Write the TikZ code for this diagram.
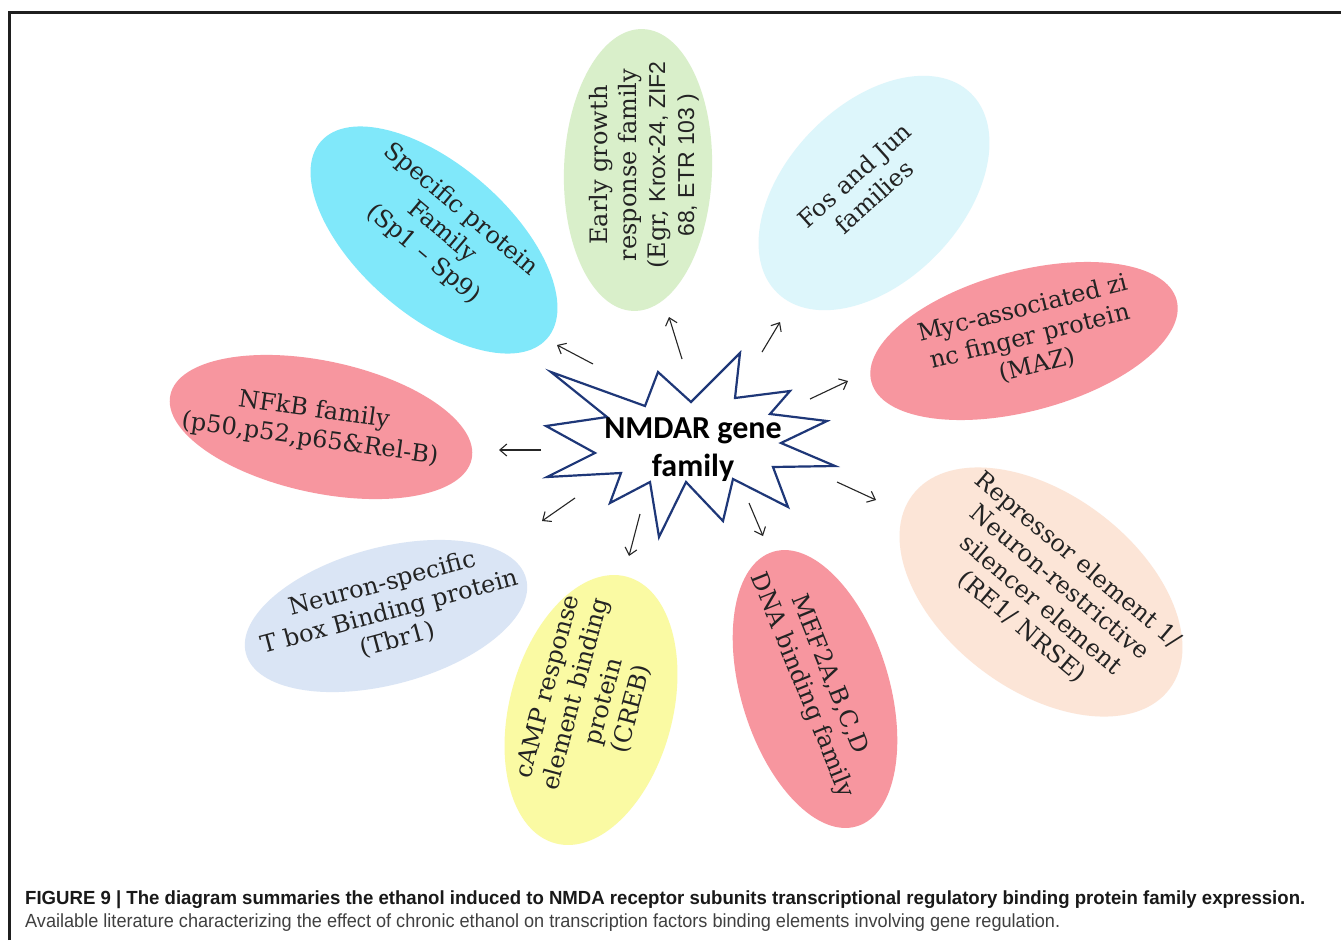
\documentclass[tikz,border=0pt]{standalone}
\usepackage{fontspec}
\setmainfont{DejaVu Serif}
\setsansfont{Liberation Sans}
\newfontfamily\hubfont{Carlito}
\usetikzlibrary{shapes.geometric,arrows.meta}
\definecolor{cgreen}{RGB}{217,239,202}
\definecolor{cpale}{RGB}{221,246,251}
\definecolor{ccyan}{RGB}{128,232,250}
\definecolor{cpink}{RGB}{247,150,159}
\definecolor{cpeach}{RGB}{252,229,215}
\definecolor{cyell}{RGB}{250,250,163}
\definecolor{cblue}{RGB}{218,229,245}
\definecolor{cstar}{RGB}{30,55,120}
\definecolor{ctext}{RGB}{35,35,35}
\begin{document}
\begin{tikzpicture}[x=1pt,y=-1pt,
  blob/.style={ellipse, draw=none, inner sep=0pt},
  lbl/.style={align=center, font=\fontsize{24}{29}\selectfont, text=ctext, inner sep=0pt},
  arr/.style={-{Straight Barb[length=7pt,width=12pt]}, line width=1.1pt, black!85},
  capb/.style={anchor=base west, inner sep=0pt, font=\sffamily\bfseries\fontsize{19}{22}\selectfont, text=black!90},
  capr/.style={anchor=base west, inner sep=0pt, font=\sffamily\fontsize{19}{22}\selectfont, text=black!75}]
\useasboundingbox (0,0) rectangle (1341,940);
\fill[white] (0,0) rectangle (1341,940);
% frame
\draw[line width=3pt, black!88] (9,940) -- (9,12) -- (1341,12);

% ellipses
\node[blob, fill=cgreen, minimum width=282, minimum height=148, rotate=88] (egr) at (638,170) {};
\node[blob, fill=cpale, minimum width=278, minimum height=176, rotate=46] (fos) at (874,193) {};
\node[blob, fill=ccyan, minimum width=300, minimum height=150, rotate=-41] (sp) at (434,240) {};
\node[blob, fill=cpink, minimum width=316, minimum height=140, rotate=15] (maz) at (1024,341) {};
\node[blob, fill=cpink, minimum width=308, minimum height=132, rotate=-12] (nfkb) at (321,427) {};
\node[blob, fill=cpeach, minimum width=322, minimum height=196, rotate=-37] (re1) at (1041,592) {};
\node[blob, fill=cpink, minimum width=287, minimum height=148, rotate=107] (mef) at (815,689) {};
\node[blob, fill=cyell, minimum width=276, minimum height=163, rotate=75] (creb) at (591,710) {};
\node[blob, fill=cblue, minimum width=290, minimum height=137, rotate=15] (tbr) at (386,616) {};

% labels
\node[lbl, rotate=90] (egrt) at (644,165) {Early growth\\response family\\(Egr, {\sffamily\fontsize{23}{29}\selectfont Krox-24, ZIF2}\\{\sffamily\fontsize{23}{29}\selectfont 68, ETR 103 )}};
\node[lbl, rotate=42] (fost) at (864,186) {Fos and Jun\\families};
\node[lbl, rotate=-40] (spt) at (442,232) {Specific protein\\Family\\(Sp1 -- Sp9)};
\node[lbl, rotate=14] (mazt) at (1030,337) {Myc-associated zi\\nc finger protein\\(MAZ)};
\node[lbl, rotate=-8] (nfkbt) at (312,425) {NFkB family\\(p50,p52,p65\&Rel-B)};
\node[lbl, rotate=-40] (re1t) at (1050,594) {Repressor element 1/\\Neuron-restrictive\\silencer element\\(RE1/ NRSE)};
\node[lbl, rotate=-68] (meft) at (815,680) {MEF2A,B,C,D\\DNA binding family};
\node[lbl, rotate=75] (crebt) at (590,698) {cAMP response\\element binding\\protein\\(CREB)};
\node[lbl, rotate=15] (tbrt) at (390,612) {Neuron-specific\\T box Binding protein\\(Tbr1)};

% star
\draw[cstar, line width=2.2pt, line join=miter, fill=white]
  (551,372) -- (645,406) -- (658,372) -- (691,402) -- (740,353) -- (735,398)
  -- (790,391) -- (770,414) -- (827,421) -- (781,443) -- (835,466) -- (773,467)
  -- (788,507) -- (733,479) -- (723,521) -- (686,482) -- (659,537) -- (650,482)
  -- (610,503) -- (621,473) -- (547,477) -- (595,453) -- (546,426) -- (607,417) -- cycle;
\node[font=\hubfont\bfseries\fontsize{32}{38}\selectfont, align=center, inner sep=0pt] (hub) at (693,450) {NMDAR gene\\family};

% arrow coordinates
\coordinate (t1) at (593,364); \coordinate (h1) at (557,345);
\coordinate (t2) at (682,359); \coordinate (h2) at (669,317);
\coordinate (t3) at (762,352); \coordinate (h3) at (780,322);
\coordinate (t4) at (810,399); \coordinate (h4) at (848,381);
\coordinate (t5) at (541,450); \coordinate (h5) at (499,450);
\coordinate (t6) at (837,482); \coordinate (h6) at (876,500);
\coordinate (t7) at (749,503); \coordinate (h7) at (763,536);
\coordinate (t8) at (640,514); \coordinate (h8) at (629,556);
\coordinate (t9) at (575,498); \coordinate (h9) at (542,521);
\foreach \i in {1,...,9} { \draw[arr] (t\i) -- (h\i); }

% caption
\node[capb] (cap1) at (25,904) {\resizebox{1280pt}{\height}{FIGURE 9 | The diagram summaries the ethanol induced to NMDA receptor subunits transcriptional regulatory binding protein family expression.}};
\node[capr] (cap2) at (25,927) {\resizebox{1035pt}{\height}{Available literature characterizing the effect of chronic ethanol on transcription factors binding elements involving gene regulation.}};
\end{tikzpicture}
\end{document}
